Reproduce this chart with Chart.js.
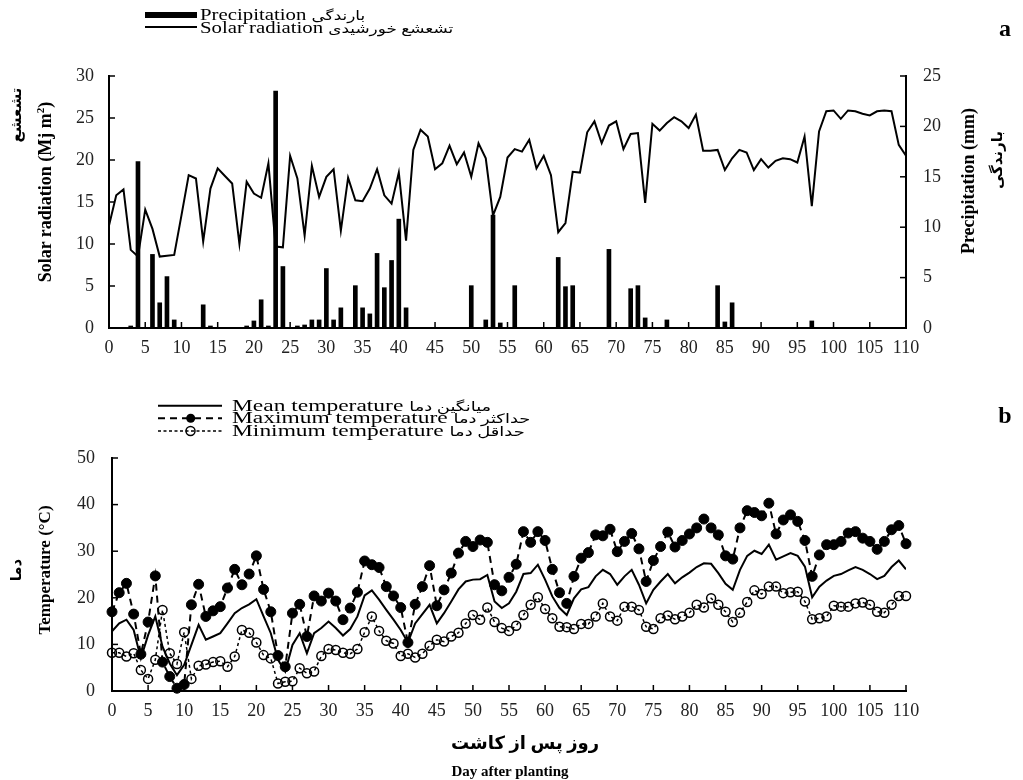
<!DOCTYPE html>
<html>
<head>
<meta charset="utf-8">
<script src="https://cdn.jsdelivr.net/npm/chart.js@4.4.1/dist/chart.umd.min.js"></script>
<style>
  body { margin: 0; background: #fff; }
  #page { position: relative; width: 1023px; height: 780px; overflow: hidden; font-family: 'Liberation Serif', 'DejaVu Sans', serif; color: #000; }
  canvas { position: absolute; left: 0; }
  .row { position: absolute; height: 14px; line-height: 14px; white-space: nowrap; }
  .wide { display: inline-block; transform-origin: left center; }
  .fa { font-size: 13px; }
  .vert { position: absolute; white-space: nowrap; font-weight: bold; font-size: 17px; transform: translate(-50%, -50%) rotate(-90deg); }
  .centre { position: absolute; white-space: nowrap; font-weight: bold; transform: translate(-50%, -50%); }
</style>
</head>
<body>
<div id="page">
  <canvas id="topChart" width="1023" height="380" style="top:0"></canvas>
  <canvas id="bottomChart" width="1023" height="400" style="top:380px"></canvas>

  <!-- legend, top chart -->
  <svg style="position:absolute;left:140px;top:5px" width="65" height="30">
    <rect x="5" y="7" width="52" height="6" fill="#000"/>
    <line x1="5" y1="22" x2="57" y2="22" stroke="#000" stroke-width="2"/>
  </svg>
  <div class="row" style="left:200px;top:8px;font-size:16px"><span class="wide" style="transform:scaleX(1.3)">Precipitation <span class="fa">بارندگی</span></span></div>
  <div class="row" style="left:200px;top:21px;font-size:16px"><span class="wide" style="transform:scaleX(1.3)">Solar radiation <span class="fa">تشعشع خورشیدی</span></span></div>

  <!-- legend, bottom chart -->
  <svg style="position:absolute;left:150px;top:395px" width="80" height="45">
    <line x1="8" y1="10.7" x2="72" y2="10.7" stroke="#000" stroke-width="2"/>
    <line x1="8" y1="23.3" x2="72" y2="23.3" stroke="#000" stroke-width="2" stroke-dasharray="7 5"/>
    <circle cx="40.7" cy="23.3" r="4.5" fill="#000"/>
    <line x1="8" y1="36" x2="72" y2="36" stroke="#000" stroke-width="1.5" stroke-dasharray="3 2.5"/>
    <circle cx="40.5" cy="36" r="4.5" fill="none" stroke="#000" stroke-width="1.5"/>
  </svg>
  <div class="row" style="left:232px;top:399px;font-size:17px"><span class="wide" style="transform:scaleX(1.38)">Mean temperature <span class="fa">میانگین دما</span></span></div>
  <div class="row" style="left:232px;top:411px;font-size:17px"><span class="wide" style="transform:scaleX(1.38)">Maximum temperature <span class="fa">حداکثر دما</span></span></div>
  <div class="row" style="left:232px;top:424px;font-size:17px"><span class="wide" style="transform:scaleX(1.38)">Minimum temperature <span class="fa">حداقل دما</span></span></div>

  <!-- axis titles -->
  <div class="vert" style="left:16px;top:115px;font-size:15px">تشعشع</div>
  <div class="vert" style="left:45px;top:192px;font-size:18px">Solar radiation (Mj m<sup style="font-size:11px">2</sup>)</div>
  <div class="vert" style="left:968px;top:181px;font-size:18px">Precipitation (mm)</div>
  <div class="vert" style="left:997px;top:160px;font-size:15px">بارندگی</div>
  <div class="vert" style="left:16px;top:570px;font-size:15px">دما</div>
  <div class="vert" style="left:45px;top:570px">Temperature (°C)</div>
  <div class="centre" style="left:525px;top:743px;font-size:18px">روز پس از کاشت</div>
  <div class="centre" style="left:510px;top:771px;font-size:15px">Day after planting</div>
  <div class="centre" style="left:1005px;top:28px;font-size:24px">a</div>
  <div class="centre" style="left:1005px;top:415px;font-size:24px">b</div>
</div>

<script>
// dias após o plantio
const days = Array.from({ length: 111 }, (_, i) => i);

// radiação solar (Mj m-2), eixo da esquerda
const solarRadiation = [
  12.2, 15.8, 16.5, 9.3, 8.5, 14.1, 11.8, 8.5, 8.6, 8.7,
  13.4, 18.2, 17.8, 10.3, 16.6, 19.0, 18.1, 17.2, 10.0, 17.4,
  16.0, 15.5, 19.6, 9.7, 9.6, 20.5, 17.8, 11.0, 19.3, 15.6,
  18.0, 18.9, 11.6, 17.9, 15.2, 15.1, 16.6, 18.9, 15.8, 14.8,
  18.5, 10.4, 21.2, 23.6, 22.8, 18.9, 19.6, 21.7, 19.5, 20.9,
  18.0, 22.0, 20.2, 13.4, 15.6, 20.3, 21.3, 21.0, 22.4, 19.0,
  20.5, 18.2, 11.4, 12.5, 18.6, 18.5, 23.3, 24.6, 22.0, 24.1,
  24.6, 21.3, 23.1, 23.2, 14.9, 24.3, 23.5, 24.4, 25.1, 24.6,
  23.8, 25.4, 21.1, 21.1, 21.2, 18.8, 20.2, 21.2, 20.9, 18.8,
  20.1, 19.1, 19.9, 20.2, 20.1, 19.7, 22.8, 14.5, 23.4, 25.8,
  25.9, 24.9, 25.9, 25.8, 25.5, 25.3, 25.8, 25.9, 25.8, 21.8,
  20.5
];

// precipitação (mm), eixo da direita
const precipitation = [
  0, 0, 0, 0.2, 16.5, 0, 7.3, 2.5, 5.1, 0.8,
  0, 0, 0, 2.3, 0.2, 0, 0, 0, 0, 0.2,
  0.7, 2.8, 0.2, 23.5, 6.1, 0, 0.2, 0.3, 0.8, 0.8,
  5.9, 0.8, 2.0, 0, 4.2, 2.0, 1.4, 7.4, 4.0, 6.7,
  10.8, 2.0, 0, 0, 0, 0, 0, 0, 0, 0,
  4.2, 0, 0.8, 11.2, 0.5, 0, 4.2, 0, 0, 0,
  0, 0, 7.0, 4.1, 4.2, 0, 0, 0, 0, 7.8,
  0, 0, 3.9, 4.2, 1.0, 0, 0, 0.8, 0, 0,
  0, 0, 0, 0, 4.2, 0.6, 2.5, 0, 0, 0,
  0, 0, 0, 0, 0, 0, 0, 0.7, 0, 0,
  0, 0, 0, 0, 0, 0, 0, 0, 0, 0,
  0
];

// temperaturas (°C)
const tempMean = [
  12.8, 14.5, 15.3, 13.1, 7.0, 12.0, 16.0, 9.5, 5.9, 3.4,
  5.6, 9.9, 14.2, 11.0, 11.7, 12.4, 14.5, 16.7, 17.8, 18.6,
  19.7, 16.0, 12.4, 6.7, 4.2, 9.9, 12.4, 8.1, 12.4, 13.5,
  14.9, 13.5, 11.9, 13.3, 16.0, 20.5, 21.6, 19.6, 17.4, 15.3,
  13.1, 10.4, 14.5, 16.5, 18.5, 14.5, 16.7, 19.2, 21.8, 23.5,
  23.9, 24.0, 24.9, 19.2, 17.8, 18.8, 21.3, 25.1, 25.3, 27.1,
  23.9, 20.3, 17.8, 16.3, 19.9, 21.8, 22.3, 24.6, 26.0, 25.1,
  22.8, 24.6, 26.0, 22.8, 18.8, 21.7, 23.5, 25.1, 23.1, 24.4,
  25.4, 26.6, 27.4, 27.3, 25.3, 23.0, 21.7, 26.0, 29.0, 30.1,
  29.4, 31.4, 28.2, 28.9, 29.6, 29.0, 26.7, 20.1, 22.4, 23.7,
  24.7, 25.1, 25.9, 26.6, 26.0, 25.1, 24.0, 24.7, 26.6, 28.0,
  26.1
];

const tempMax = [
  17.0, 21.1, 23.1, 16.5, 7.9, 14.8, 24.7, 6.2, 3.1, 0.6,
  1.4, 18.5, 22.9, 16.0, 17.2, 18.1, 22.1, 26.1, 22.8, 25.1,
  29.0, 21.8, 17.0, 7.6, 5.2, 16.7, 18.6, 11.7, 20.4, 19.3,
  21.0, 19.3, 15.3, 17.8, 21.2, 27.9, 27.1, 26.5, 22.4, 20.4,
  17.9, 10.4, 18.6, 22.4, 26.9, 18.3, 21.7, 25.3, 29.6, 32.1,
  31.0, 32.4, 31.9, 22.8, 21.5, 24.4, 27.2, 34.2, 31.9, 34.2,
  32.3, 26.1, 21.1, 18.8, 24.6, 28.5, 29.7, 33.5, 33.3, 34.7,
  29.9, 32.1, 33.8, 30.5, 23.5, 28.0, 31.0, 34.1, 30.9, 32.3,
  33.7, 35.0, 36.9, 35.0, 33.5, 29.0, 28.3, 35.0, 38.7, 38.3,
  37.6, 40.3, 33.7, 36.7, 37.8, 36.4, 32.3, 24.6, 29.2, 31.4,
  31.4, 32.1, 33.9, 34.2, 32.8, 32.1, 30.4, 32.1, 34.6, 35.5,
  31.6
];

const tempMin = [
  8.2, 8.2, 7.4, 8.1, 4.5, 2.6, 6.7, 17.4, 8.1, 5.8,
  12.6, 2.6, 5.4, 5.7, 6.2, 6.4, 5.2, 7.4, 13.1, 12.5,
  10.4, 7.7, 7.0, 1.6, 2.0, 2.1, 4.9, 3.8, 4.2, 7.5,
  9.0, 8.8, 8.2, 8.0, 9.0, 12.6, 16.0, 12.9, 10.8, 10.2,
  7.5, 8.0, 7.2, 8.0, 9.7, 11.0, 10.6, 11.7, 12.5, 14.5,
  16.3, 15.3, 17.9, 14.8, 13.5, 12.9, 14.0, 16.3, 18.5, 20.1,
  17.6, 15.6, 13.8, 13.7, 13.3, 14.4, 14.4, 16.0, 18.8, 16.0,
  15.1, 18.1, 18.1, 17.4, 13.8, 13.3, 15.6, 16.2, 15.4, 16.0,
  16.8, 18.5, 17.9, 19.9, 18.5, 17.0, 14.8, 16.8, 19.1, 21.6,
  20.8, 22.4, 22.4, 21.0, 21.2, 21.3, 19.2, 15.4, 15.6, 16.0,
  18.3, 18.1, 18.1, 18.8, 19.0, 18.5, 17.0, 16.8, 18.5, 20.4,
  20.4
];

const tickFont = { family: 'Liberation Serif', size: 18 };

// marcas dos eixos voltadas para dentro do gráfico
const inwardTicks = {
  id: 'inwardTicks',
  afterDatasetsDraw(chart) {
    const { ctx, chartArea } = chart;
    ctx.save();
    ctx.strokeStyle = '#000';
    ctx.lineWidth = 1.5;
    Object.values(chart.scales).forEach(scale => {
      scale.ticks.forEach(t => {
        const p = scale.getPixelForValue(t.value);
        ctx.beginPath();
        if (scale.axis === 'x') {
          ctx.moveTo(p, chartArea.bottom);
          ctx.lineTo(p, chartArea.bottom - 6);
        } else if (scale.position === 'left') {
          ctx.moveTo(chartArea.left, p);
          ctx.lineTo(chartArea.left + 6, p);
        } else {
          ctx.moveTo(chartArea.right, p);
          ctx.lineTo(chartArea.right - 6, p);
        }
        ctx.stroke();
      });
    });
    ctx.restore();
  }
};

const noGrid = { display: true, drawOnChartArea: false, drawTicks: false, offset: false };
const axisLine = { color: '#000', width: 2 };

const dayAxis = (height) => ({
  type: 'linear',
  min: 0,
  max: 110,
  offset: false,
  grid: noGrid,
  border: axisLine,
  ticks: { stepSize: 5, autoSkip: false, maxRotation: 0, padding: 9, font: tickFont, color: '#222' },
  afterFit: s => { s.height = height; }
});

new Chart(document.getElementById('topChart'), {
  type: 'line',
  data: {
    labels: days,
    datasets: [
      {
        type: 'line',
        label: 'Solar radiation',
        data: solarRadiation,
        yAxisID: 'ySolar',
        borderColor: '#000',
        borderWidth: 2,
        pointRadius: 0,
        tension: 0,
        order: 0
      },
      {
        type: 'bar',
        label: 'Precipitation',
        data: precipitation,
        yAxisID: 'yRain',
        backgroundColor: '#000',
        barThickness: 4,
        order: 1
      }
    ]
  },
  options: {
    responsive: false,
    animation: false,
    layout: { padding: { top: 76, left: 0, right: 0, bottom: 0 } },
    plugins: { legend: { display: false }, tooltip: { enabled: false } },
    scales: {
      x: dayAxis(52),
      ySolar: {
        position: 'left',
        min: 0,
        max: 30,
        grid: noGrid,
        border: axisLine,
        ticks: { stepSize: 5, padding: 15, font: tickFont, color: '#222' },
        afterFit: s => { s.width = 109; }
      },
      yRain: {
        position: 'right',
        min: 0,
        max: 25,
        grid: noGrid,
        border: axisLine,
        ticks: { stepSize: 5, padding: 17, font: tickFont, color: '#222' },
        afterFit: s => { s.width = 117; }
      }
    }
  },
  plugins: [inwardTicks]
});

new Chart(document.getElementById('bottomChart'), {
  type: 'line',
  data: {
    labels: days,
    datasets: [
      {
        label: 'Mean temperature',
        data: tempMean,
        borderColor: '#000',
        borderWidth: 2,
        pointRadius: 0,
        tension: 0,
        order: 2
      },
      {
        label: 'Maximum temperature',
        data: tempMax,
        borderColor: '#000',
        borderWidth: 2,
        borderDash: [7, 5],
        pointRadius: 5,
        pointBackgroundColor: '#000',
        pointBorderColor: '#000',
        pointBorderWidth: 1,
        tension: 0,
        clip: false,
        order: 0
      },
      {
        label: 'Minimum temperature',
        data: tempMin,
        borderColor: '#000',
        borderWidth: 1.5,
        borderDash: [3, 3],
        pointRadius: 4.5,
        pointBackgroundColor: 'rgba(0,0,0,0)',
        pointBorderColor: '#000',
        pointBorderWidth: 1.5,
        tension: 0,
        clip: false,
        order: 1
      }
    ]
  },
  options: {
    responsive: false,
    animation: false,
    layout: { padding: { top: 78, left: 0, right: 117, bottom: 0 } },
    plugins: { legend: { display: false }, tooltip: { enabled: false } },
    scales: {
      x: dayAxis(89),
      y: {
        position: 'left',
        min: 0,
        max: 50,
        grid: noGrid,
        border: axisLine,
        ticks: { stepSize: 10, padding: 17, font: tickFont, color: '#222' },
        afterFit: s => { s.width = 112; }
      }
    }
  },
  plugins: [inwardTicks]
});
</script>
</body>
</html>
